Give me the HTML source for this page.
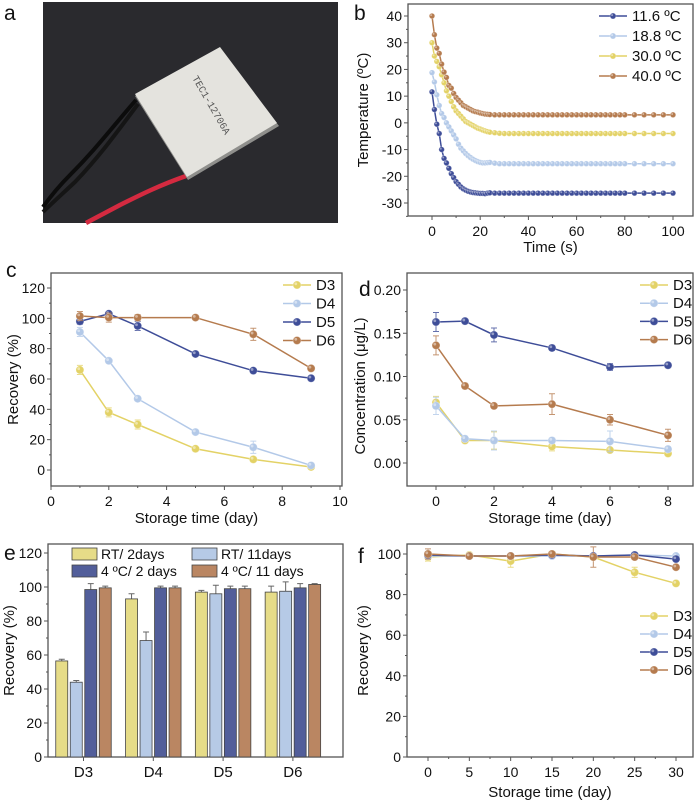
<!DOCTYPE html>
<html><head><meta charset="utf-8"><style>
body{margin:0;background:#fff;}
svg{display:block;font-family:"Liberation Sans",Arial,sans-serif;}
</style></head><body>
<svg id="fig" width="700" height="801" viewBox="0 0 700 801" xmlns="http://www.w3.org/2000/svg">
 <g>
  <text x="4" y="20" font-size="21" fill="#111">a</text>
  <rect x="43" y="2" width="295" height="221" fill="#2a2a2e"/>
  <path d="M136,100 C110,130 95,150 70,175 C55,190 48,200 43,207" stroke="#0c0c0c" stroke-width="4" fill="none"/>
  <path d="M138,104 C115,135 98,158 75,182 C60,196 50,205 43,212" stroke="#151515" stroke-width="4" fill="none"/>
  <path d="M186,176 C160,185 140,195 120,205 C105,213 95,218 86,223" stroke="#d42a40" stroke-width="4.5" fill="none"/>
  <polygon points="135,96 220,48 279,126 188,180" fill="#8f8f8c"/>
  <polygon points="135,94 220,47 277,123 187,177" fill="#e4e3de"/>
  <text x="0" y="0" font-size="10" fill="#555" font-family="Liberation Mono,monospace" transform="translate(192,78) rotate(60)">TEC1-12706A</text>
 </g>
</svg>
<script>
const NS='http://www.w3.org/2000/svg';
const svg=document.getElementById('fig');

// ---- Panel b data ----
const bTimes=[0,1,2,3,4,5,6,7,8,9,10,11,12,13,14,15,16,17,18,19,20,21,22,23,24,26,28,30,32,34,36,38,40,42,44,46,48,50,52,54,56,58,60,62,64,66,68,70,72,74,76,78,80,84,88,92,96,100];
const bT11=[11.6,5,-0.5,-4,-10,-13.3,-15,-17,-19,-20.5,-22,-23,-24,-24.7,-25.2,-25.6,-25.9,-26.1,-26.2,-26.3,-26.4,-26.4,-26.5,-26.3,-26.2,-26.3,-26.3,-26.3,-26.3,-26.3,-26.3,-26.3,-26.3,-26.3,-26.3,-26.3,-26.3,-26.3,-26.3,-26.3,-26.3,-26.3,-26.3,-26.3,-26.3,-26.3,-26.3,-26.3,-26.3,-26.3,-26.3,-26.3,-26.3,-26.3,-26.3,-26.3,-26.3,-26.3];
const bT18=[18.8,15.3,10.5,6.5,3.5,2,0,-1.5,-3,-4.5,-6,-8,-9.5,-10.5,-11.5,-12.3,-13,-13.6,-14.1,-14.5,-14.8,-15,-15,-14.9,-14.8,-15.1,-15.3,-15.3,-15.3,-15.3,-15.3,-15.3,-15.3,-15.3,-15.3,-15.3,-15.3,-15.3,-15.3,-15.3,-15.3,-15.3,-15.3,-15.3,-15.3,-15.3,-15.3,-15.3,-15.3,-15.3,-15.3,-15.3,-15.3,-15.3,-15.3,-15.3,-15.3,-15.3];
const bT30=[30,25,23,21,18,15,12,10,8,6,4.5,3.5,2.5,1.5,0.5,0,-0.5,-1,-1.5,-2,-2.3,-2.7,-3,-3.3,-3.5,-3.7,-3.9,-4,-4,-4,-4,-4,-4,-4,-4,-4,-4,-4,-4,-4,-4,-4,-4,-4,-4,-4,-4,-4,-4,-4,-4,-4,-4,-4,-4,-4,-4,-4];
const bT40=[40,33,28,26,22,19,17,14,13,11,9.5,8.5,7.5,6.5,6,5.5,5,4.5,4.2,4,3.7,3.5,3.3,3.2,3.1,3,3,3,3,3,3,3,3,3,3,3,3,3,3,3,3,3,3,3,3,3,3,3,3,3,3,3,3,3,3,3,3,3];
const bLegend=['11.6 ºC','18.8 ºC','30.0 ºC','40.0 ºC'];

// ---- Panel c data ----
const cDays=[1,2,3,5,7,9];
const cD3=[66,38,30,14,7,2];
const cD4=[91,72,47,25,15,3];
const cD5=[98,103,95,76.5,65.5,60.5];
const cD6=[101.5,100.5,100.5,100.5,89.5,67];
const cE3=[3,3,3,1,1,1];
const cE4=[3,1,1,1,4,1];
const cE5=[2,1,3,1,1,1];
const cE6=[3,3,2,1,4,1];

// ---- Panel d data ----
const dDays=[0,1,2,4,6,8];
const dD3=[0.070,0.026,0.026,0.019,0.015,0.011];
const dD4=[0.066,0.028,0.026,0.026,0.025,0.016];
const dD5=[0.163,0.164,0.148,0.133,0.111,0.113];
const dD6=[0.136,0.089,0.066,0.068,0.050,0.032];
const dE3=[0.007,0.002,0.010,0.005,0.002,0.002];
const dE4=[0.010,0.003,0.011,0.003,0.012,0.003];
const dE5=[0.011,0.002,0.008,0.003,0.004,0.002];
const dE6=[0.011,0.003,0.002,0.012,0.006,0.007];

// ---- Panel e data ----
const eCats=['D3','D4','D5','D6'];
const eRT2=[56.5,93,97,97];
const eRT11=[44,68.5,96,97.5];
const eC2=[98.5,99.5,99,99.5];
const eC11=[99.5,99.5,99,101.5];
const eErrRT2=[1,3,1,3.5];
const eErrRT11=[1,5,5,5.5];
const eErrC2=[3.5,1,1.5,2.5];
const eErrC11=[1,1,1.5,0.5];
const eLegend=['RT/ 2days','RT/ 11days','4 ºC/ 2 days','4 ºC/ 11 days'];

// ---- Panel f data ----
const fDays=[0,5,10,15,20,25,30];
const fD3=[98.5,99.5,96.5,100,98.5,91,85.5];
const fD4=[99,99,99,99,99,99.5,99];
const fD5=[99.5,99,99,99.5,99,99.5,97.5];
const fD6=[100,99,99,100,98.5,98.5,93.5];
const fE3=[2,1,3,1,1,2.5,1];
const fE6=[2.5,1,1,1,5,1,1];

const seriesNames=['D3','D4','D5','D6'];
const COL=['#e3d266','#b3c9e8','#3e4d98','#b57b4e'];
const BAR=['#e6dc88','#b6cae6','#525e9a','#ba8662'];

function el(tag,attrs,parent){
  const e=document.createElementNS(NS,tag);
  for(const k in attrs){e.setAttribute(k,attrs[k]);}
  (parent||svg).appendChild(e);
  return e;
}
function txt(s,x,y,size,anchor,parent,name){
  const t=el('text',{x:x,y:y,'font-size':size,'text-anchor':anchor,fill:'#111'},parent);
  
  
  t.textContent=s;
  return t;
}
function makeLinear(d0,d1,p0,p1){return v=>p0+(v-d0)*(p1-p0)/(d1-d0);}

function axes(g,f,xs,ys,xt,yt,xMinor,yMinor,xfmt,yfmt,xTitle,yTitle,xTitleY,yTitleX,label,labelPos,showXLabels,yTitleCY){
  const fr=el('rect',{x:f.l,y:f.t,width:f.r-f.l,height:f.b-f.t,fill:'none',stroke:'#555','stroke-width':1.3},g);
  
  
  yt.forEach(v=>{const y=ys(v);
    const tk=el('line',{x1:f.l,x2:f.l-4,y1:y,y2:y,stroke:'#555','stroke-width':1},g);
    
    
    txt(yfmt(v),f.l-6,y+5,14,'end',g,'y-tick-label');});
  yMinor.forEach(v=>{const y=ys(v);
    const tk=el('line',{x1:f.l,x2:f.l-2,y1:y,y2:y,stroke:'#555','stroke-width':1},g);
    
    });
  xt.forEach((v,i)=>{const x=xs(v);
    const tk=el('line',{x1:x,x2:x,y1:f.b,y2:f.b+4,stroke:'#555','stroke-width':1},g);
    
    
    if(showXLabels) txt(xfmt(v),x,f.b+20,14,'middle',g,'x-tick-label');});
  xMinor.forEach(v=>{const x=xs(v);
    const tk=el('line',{x1:x,x2:x,y1:f.b,y2:f.b+2,stroke:'#555','stroke-width':1},g);
    
    });
  if(xTitle) txt(xTitle,(f.l+f.r)/2,xTitleY,15,'middle',g,'x-axis-title');
  const cy=yTitleCY||((f.t+f.b)/2);
  const yt2=txt(yTitle,0,0,15,'middle',g,'y-axis-title');
  yt2.setAttribute('transform','translate('+yTitleX+','+cy+') rotate(-90)');
  txt(label,labelPos[0],labelPos[1],21,'start',g,'panel-label');
}
function marker(g,x,y,c,r,name){
  const m=el('circle',{cx:x,cy:y,r:r,fill:c,stroke:'#fff','stroke-opacity':0.35,'stroke-width':0.8},g);
  
  
  const h=el('circle',{cx:x-r*0.3,cy:y-r*0.3,r:r*0.35,fill:'#fff','fill-opacity':0.45},g);
  
  
}
function lineSeries(g,xsArr,ysArr,errs,xs,ys,c,r,name){
  const pts=xsArr.map((v,i)=>xs(v)+','+ys(ysArr[i])).join(' ');
  const pl=el('polyline',{points:pts,fill:'none',stroke:c,'stroke-width':1.5},g);
  
  
  if(errs){xsArr.forEach((v,i)=>{
    const x=xs(v),y1=ys(ysArr[i]-errs[i]),y2=ys(ysArr[i]+errs[i]);
    const eb=el('path',{d:'M'+x+','+y1+'V'+y2+'M'+(x-3)+','+y1+'h6M'+(x-3)+','+y2+'h6',stroke:c,'stroke-width':1,fill:'none','stroke-opacity':0.8},g);
    
    });}
  xsArr.forEach((v,i)=>marker(g,xs(v),ys(ysArr[i]),c,r,name+'-point'));
}
function legend(g,names,cols,x,y0,dy,r){
  names.forEach((n,i)=>{
    const y=y0+i*dy;
    const ln=el('line',{x1:x,x2:x+28,y1:y,y2:y,stroke:cols[i],'stroke-width':1.5},g);
    
    
    marker(g,x+14,y,cols[i],r,'legend-marker');
    txt(n,x+33,y+5,15,'start',g,'legend-entry');
  });
}
function range(a,b,s){const o=[];for(let v=a;v<=b+1e-9;v+=s)o.push(+v.toFixed(4));return o;}

// ===== Panel b =====
(function(){
  const g=el('g',{});
  
  
  const f={l:408,r:693,t:4,b:216};
  const xs=makeLinear(0,100,432,673), ys=makeLinear(40,-30,16,203);
  axes(g,f,xs,ys,range(0,100,20),range(-30,40,10),range(10,90,20),range(-35,35,10),v=>v,v=>v,'Time (s)','Temperature (ºC)',252,368,'b',[354,20],true);
  const sets=[bT11,bT18,bT30,bT40], cols=[COL[2],COL[1],COL[0],COL[3]];
  sets.forEach((s,i)=>lineSeries(g,bTimes,s,null,xs,ys,cols[i],2.8,'temp-series-'+i));
  legend(g,bLegend,cols,599,16,20,3);
})();

// ===== Panel c =====
(function(){
  const g=el('g',{});
  
  
  const f={l:51,r:342,t:273,b:486};
  const xs=makeLinear(0,10,51,340), ys=makeLinear(0,120,470,288);
  axes(g,f,xs,ys,range(0,10,2),range(0,120,20),range(1,9,2),range(10,110,20),v=>v,v=>v,'Storage time (day)','Recovery (%)',523,18,'c',[6,277],true);
  const D=[cD3,cD4,cD5,cD6], E=[cE3,cE4,cE5,cE6];
  D.forEach((s,i)=>lineSeries(g,cDays,s,E[i],xs,ys,COL[i],4,'series-'+seriesNames[i]));
  legend(g,seriesNames,COL,283,285,18.5,4);
})();

// ===== Panel d =====
(function(){
  const g=el('g',{});
  
  
  const f={l:407,r:693,t:273,b:486};
  const xs=makeLinear(0,8,436,668), ys=makeLinear(0,0.2,463,290);
  axes(g,f,xs,ys,range(0,8,2),range(0,0.2,0.05),range(1,7,2),range(0.025,0.175,0.05),v=>v,v=>v.toFixed(2),'Storage time (day)','Concentration (μg/L)',523,365,'d',[359,296],true,386);
  const D=[dD3,dD4,dD5,dD6], E=[dE3,dE4,dE5,dE6];
  D.forEach((s,i)=>lineSeries(g,dDays,s,E[i],xs,ys,COL[i],4,'series-'+seriesNames[i]));
  legend(g,seriesNames,COL,640,285,18.2,4);
})();

// ===== Panel e =====
(function(){
  const g=el('g',{});
  
  
  const f={l:48,r:343,t:544,b:757};
  const ys=makeLinear(0,120,757,553);
  const xc=i=>83.5+i*69.8;
  axes(g,f,v=>v,ys,[],range(0,120,20),[],range(10,110,20),v=>v,v=>v,null,'Recovery (%)',0,14,'e',[4,560],false);
  eCats.forEach((c,i)=>{
    const tk=el('line',{x1:xc(i),x2:xc(i),y1:f.b,y2:f.b+4,stroke:'#555'},g);
    
    
    txt(c,xc(i),f.b+20,15,'middle',g,'x-tick-label');
  });
  const S=[eRT2,eRT11,eC2,eC11], E=[eErrRT2,eErrRT11,eErrC2,eErrC11];
  S.forEach((s,j)=>s.forEach((v,i)=>{
    const cx=xc(i)+(j-1.5)*14.5;
    const eb=el('path',{d:'M'+cx+','+ys(v)+'V'+ys(v+E[j][i])+'M'+(cx-3)+','+ys(v+E[j][i])+'h6',stroke:'#666','stroke-width':1,fill:'none'},g);
    
    
    const b=el('rect',{x:cx-6,y:ys(v),width:12,height:ys(0)-ys(v),fill:BAR[j],stroke:'#444','stroke-width':0.8},g);
    
    
  }));
  eLegend.forEach((n,j)=>{
    const x=j%2===0?72:192, y=j<2?548:565;
    const r=el('rect',{x:x,y:y,width:25,height:12,fill:BAR[j],stroke:'#444','stroke-width':0.8},g);
    
    
    txt(n,x+29,y+11,14,'start',g,'legend-entry');
  });
})();

// ===== Panel f =====
(function(){
  const g=el('g',{});
  
  
  const f={l:407,r:693,t:544,b:757};
  const xs=makeLinear(0,30,428,676), ys=makeLinear(0,100,757,554);
  axes(g,f,xs,ys,range(0,30,5),range(0,100,20),range(2.5,27.5,5),range(10,90,20),v=>v,v=>v,'Storage time (day)','Recovery (%)',797,368,'f',[358,563],true);
  const D=[fD3,fD4,fD5,fD6], E=[fE3,null,null,fE6];
  D.forEach((s,i)=>lineSeries(g,fDays,s,E[i],xs,ys,COL[i],4,'series-'+seriesNames[i]));
  legend(g,seriesNames,COL,640,616,18,4);
})();
</script>
</body></html>
